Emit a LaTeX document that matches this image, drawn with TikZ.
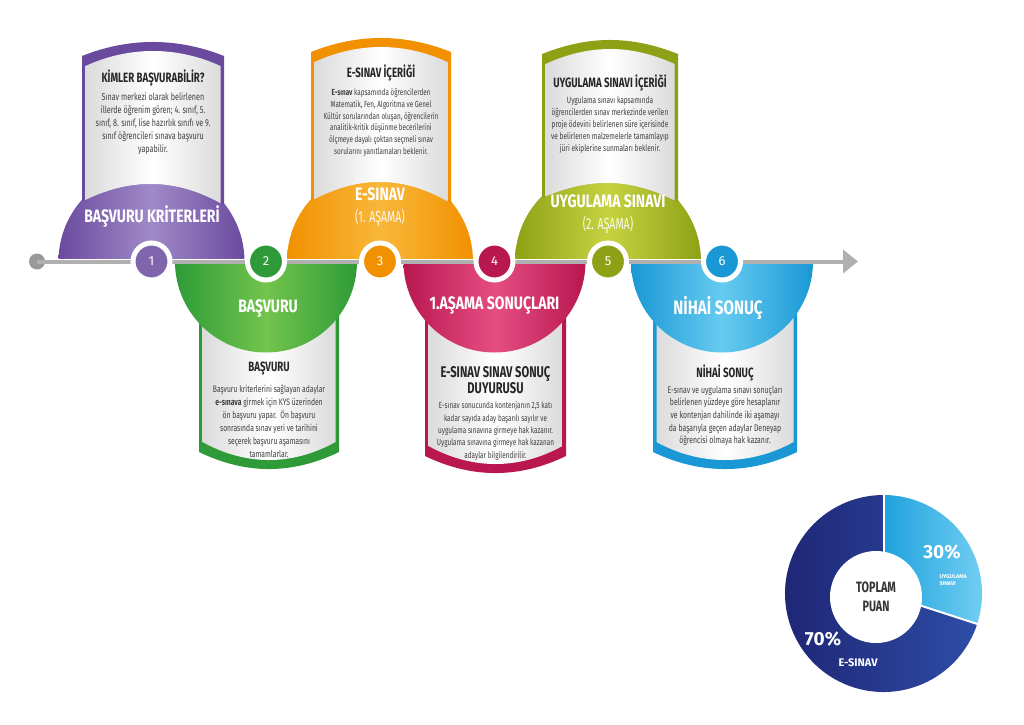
\documentclass[tikz,border=0pt]{standalone}
\usepackage{fontspec}
\setmainfont{Fira Sans}
\newfontfamily\cond[FakeStretch=0.72]{Fira Sans}
\newfontfamily\condt[FakeStretch=0.78]{Fira Sans}
\newfontfamily\condr[FakeStretch=0.66]{Fira Sans}
\usetikzlibrary{arrows.meta}
\definecolor{pD}{HTML}{6A4A9E}\definecolor{pL}{HTML}{A08AC8}
\definecolor{gD}{HTML}{2E9B38}\definecolor{gL}{HTML}{72C44C}
\definecolor{oD}{HTML}{F29100}\definecolor{oL}{HTML}{F8B73A}
\definecolor{cD}{HTML}{B8174F}\definecolor{cL}{HTML}{E54E82}
\definecolor{lD}{HTML}{8EA116}\definecolor{lL}{HTML}{C6D340}
\definecolor{bD}{HTML}{1A98D5}\definecolor{bL}{HTML}{66CBF0}
\definecolor{navy}{HTML}{1E2473}\definecolor{navyL}{HTML}{2E4DA6}
\definecolor{sky}{HTML}{1FA2DE}\definecolor{skyL}{HTML}{74CFF2}
\definecolor{lineG}{HTML}{B0B0B0}
% top card: L R peak colour ysL ysR ycc
\newcommand{\topcard}[7]{%
  \fill[#4] (#1,#5) -- (#1,#3+14) .. controls (#1+47,#3-4.7) and (#2-47,#3-4.7) .. (#2,#3+14) -- (#2,#6) .. controls (#2-47,#7) and (#1+47,#7) .. (#1,#5) -- cycle;
  \begin{scope}
  \clip (#1,#5) -- (#1,#3) -- (#2,#3) -- (#2,#6) .. controls (#2-47,#7) and (#1+47,#7) .. (#1,#5) -- cycle;
  \path[cardin] (#1+3.5,250) -- (#1+3.5,#3+24) .. controls (#1+47,#3+4) and (#2-47,#3+4) .. (#2-3.5,#3+24) -- (#2-3.5,250) -- cycle;
  \end{scope}}
\newcommand{\botcard}[4]{%
  \fill[#4] (#1,280) -- (#1,#3) .. controls (#1+47,#3+22.7) and (#2-47,#3+22.7) .. (#2,#3) -- (#2,280) -- cycle;
  \path[cardin] (#1+3.5,280) -- (#1+3.5,#3-10) .. controls (#1+47,#3+14) and (#2-47,#3+14) .. (#2-3.5,#3-10) -- (#2-3.5,280) -- cycle;}
\newcommand{\topdome}[3]{%
  \begin{scope}\clip (#1-120,100) rectangle (#1+120,258.5);
  \path[left color=#2,right color=#2,middle color=#3] (#1,261.5) circle[radius=93];
  \end{scope}}
\newcommand{\botdome}[3]{%
  \begin{scope}\clip (#1-120,264.5) rectangle (#1+120,420);
  \path[left color=#2,right color=#2,middle color=#3] (#1,261.5) circle[radius=91];
  \end{scope}}
\tikzset{
  cardin/.style={left color=black!14,right color=black!14,middle color=white},
  cardtitle/.style={font=\cond\bfseries\fontsize{#1}{15}\selectfont,text=black!85,align=center,inner sep=0},
  cardtitle/.default=13.5,
  cardbody/.style 2 args={font=\cond\fontsize{#1}{#2}\selectfont,text=black!75,align=center,inner sep=0},
  dometitle/.style={font=\condt\bfseries\fontsize{#1}{22}\selectfont,text=white,inner sep=0},
  dometitle/.default=18,
  domesub/.style={font=\condr\fontsize{16}{20}\selectfont,text=white,text opacity=0.9,inner sep=0},
  numc/.style={circle,draw=white,line width=5,minimum size=37,inner sep=0,text=white,font=\fontsize{13}{13}\selectfont},
}
\begin{document}
\begin{tikzpicture}[x=1pt,y=-1pt]
\useasboundingbox[fill=white] (0,0) rectangle (1024,724);
% top domes, then their cards in front
\topdome{151.5}{pD}{pL}
\topdome{380}{oD}{oL}
\topdome{608}{lD}{lL}
\topcard{82}{224}{42}{pD}{201.7}{205.3}{177.5}
\topcard{311}{451}{38}{oD}{201.1}{203.4}{175.25}
\topcard{542}{678}{40}{lD}{198}{202.3}{177.3}
% bottom cards, then their domes in front
\botcard{199}{339}{452}{gD}
\botcard{425}{566}{456}{cD}
\botcard{653}{797}{452}{bD}
\botdome{266}{gD}{gL}
\botdome{494.5}{cD}{cL}
\botdome{722}{bD}{bL}
% timeline
\node[circle,fill=black!40,minimum size=16,inner sep=0] (start) at (37,261.5) {};
\coordinate (tip) at (858,261.5);
\draw[lineG,line width=4,-{Triangle[length=15pt,width=23pt]}] (start.center) -- (tip);
\node[numc,fill=pD!85] (n1) at (151.5,261.5) {1};
\node[numc,fill=gD] (n2) at (266,261.5) {2};
\node[numc,fill=oD] (n3) at (380,261.5) {3};
\node[numc,fill=cD] (n4) at (494.5,261.5) {4};
\node[numc,fill=lD] (n5) at (608,261.5) {5};
\node[numc,fill=bD] (n6) at (722,261.5) {6};
% dome titles
\node[dometitle] (d1) at (152,216) {BAŞVURU KRİTERLERİ};
\node[dometitle] (d3) at (380,194) {E-SINAV};
\node[domesub] (d3b) at (380,218) {(1. AŞAMA)};
\node[dometitle] (d5) at (608,201) {UYGULAMA SINAVI};
\node[domesub] (d5b) at (608,225) {(2. AŞAMA)};
\node[dometitle] (d2) at (268,308) {BAŞVURU};
\node[dometitle] (d4) at (494.5,305) {1.AŞAMA SONUÇLARI};
\node[dometitle=19.4] (d6) at (718,308) {NİHAİ SONUÇ};
% card texts
\node[cardtitle] (c1t) at (153,78) {KİMLER BAŞVURABİLİR?};
\node[cardbody={10}{13}] (c1b) at (153,124) {Sınav merkezi olarak belirlenen\\illerde öğrenim gören; 4. sınıf, 5.\\sınıf, 8. sınıf, lise hazırlık sınıfı ve 9.\\sınıf öğrencileri sınava başvuru\\yapabilir.};
\node[cardtitle] (c3t) at (381,73) {E-SINAV İÇERİĞİ};
\node[cardbody={8.8}{11.8}] (c3b) at (381,122.5) {\textbf{E-sınav} kapsamında öğrencilerden\\Matematik, Fen, Algoritma ve Genel\\Kültür sorularından oluşan, öğrencilerin\\analitik-kritik düşünme becerilerini\\ölçmeye dayalı çoktan seçmeli sınav\\sorularını yanıtlamaları beklenir.};
\node[cardtitle] (c5t) at (610,83) {UYGULAMA SINAVI İÇERİĞİ};
\node[cardbody={9.1}{11.8}] (c5b) at (610,125) {Uygulama sınavı kapsamında\\öğrencilerden sınav merkezinde verilen\\proje ödevini belirlenen süre içerisinde\\ve belirlenen malzemelerle tamamlayıp\\jüri ekiplerine sunmaları beklenir.};
\node[cardtitle] (c2t) at (269,368) {BAŞVURU};
\node[cardbody={9.4}{13}] (c2b) at (269,421) {Başvuru kriterlerini sağlayan adaylar\\\textbf{e-sınava} girmek için KYS üzerinden\\ön başvuru yapar.\ \ Ön başvuru\\sonrasında sınav yeri ve tarihini\\seçerek başvuru aşamasını\\tamamlarlar.};
\node[cardtitle=15.5] (c4t) at (495.5,380.5) {E-SINAV SINAV SONUÇ\\DUYURUSU};
\node[cardbody={8.9}{12.3}] (c4b) at (495.5,431) {E-sınav sonucunda kontenjanın 2,5 katı\\kadar sayıda aday başarılı sayılır ve\\uygulama sınavına girmeye hak kazanır.\\Uygulama sınavına girmeye hak kazanan\\adaylar bilgilendirilir.};
\node[cardtitle] (c6t) at (725,373) {NİHAİ SONUÇ};
\node[cardbody={9.6}{12.7}] (c6b) at (725,416) {E-sınav ve uygulama sınavı sonuçları\\belirlenen yüzdeye göre hesaplanır\\ve kontenjan dahilinde iki aşamayı\\da başarıyla geçen adaylar Deneyap\\öğrencisi olmaya hak kazanır.};
% donut
\begin{scope}[shift={(883.5,593.5)},yscale=-1]
  \path[left color=navy,right color=navyL] (0,0) -- (-18:98.5) arc[start angle=-18,end angle=-270,radius=98.5] -- cycle;
  \path[left color=sky,right color=skyL] (0,0) -- (90:98.5) arc[start angle=90,end angle=-18,radius=98.5] -- cycle;
  \draw[white,line width=2] (0,0) -- (90:100);
  \draw[white,line width=2] (0,0) -- (-18:100);
\end{scope}
\node[circle,fill=white,minimum size=92,inner sep=0] (hole) at (876,597) {};
\node[font=\cond\bfseries\fontsize{15}{19}\selectfont,text=black!80,align=center] (tp) at (hole) {TOPLAM\\PUAN};
\node[font=\bfseries\fontsize{19}{19}\selectfont,text=white] (p30) at (942,552) {30\%};
\node[font=\bfseries\fontsize{5.5}{7}\selectfont,text=white,align=left,anchor=west] (u30) at (936,580) {UYGULAMA\\SINAVI};
\node[font=\bfseries\fontsize{19}{19}\selectfont,text=white] (p70) at (823,639) {70\%};
\node[font=\bfseries\fontsize{11}{11}\selectfont,text=white] (e70) at (858,663) {E-SINAV};
\end{tikzpicture}
\end{document}
